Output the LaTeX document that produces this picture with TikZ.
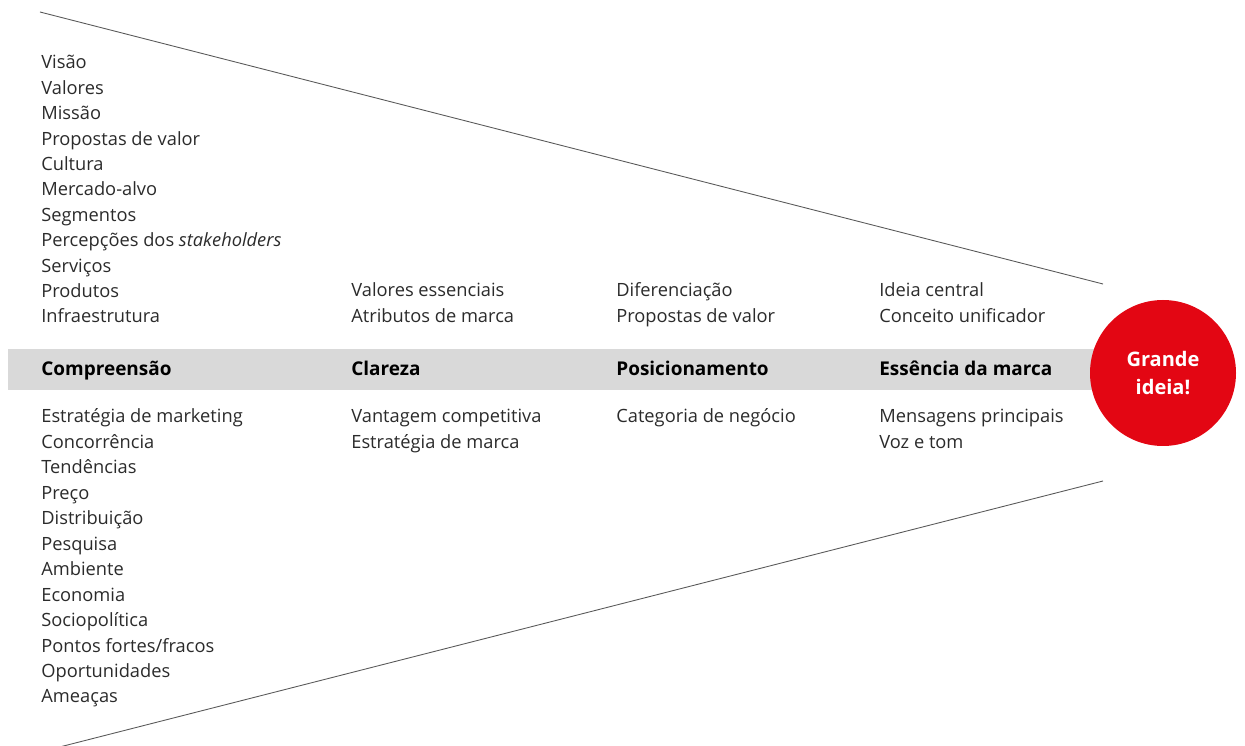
\documentclass[tikz,border=0pt]{standalone}
\usepackage{fontspec}
\setmainfont{Open Sans}
\definecolor{bandgray}{HTML}{D9D9D9}
\definecolor{ideared}{HTML}{E30613}
\definecolor{txtgray}{HTML}{2B2B2B}
\tikzset{
  item/.style={anchor=base west,inner sep=0pt,text=txtgray,font=\fontsize{10.4}{14}\selectfont},
  stage/.style={anchor=base west,inner sep=0pt,text=black,font=\fontsize{10.8}{14}\selectfont\bfseries},
  funnel/.style={draw=black!65,line width=0.5pt}
}
\begin{document}
\begin{tikzpicture}[x=0.02cm,y=-0.02cm]
    \useasboundingbox (0,0) rectangle (1245,746);

    % faixa cinzenta
    \fill[bandgray] (8,349) rectangle (1100,390);

    % funil
    \coordinate (tl) at (40,12);
    \coordinate (tr) at (1103,284);
    \coordinate (bl) at (40,752);
    \coordinate (br) at (1103,481);
    \draw[funnel] (tl) -- (tr);
    \draw[funnel] (bl) -- (br);

    \node[shape=circle,fill=ideared,minimum size=146*0.02cm,inner sep=0pt,
          text=white,font=\fontsize{11.4}{16}\selectfont\bfseries,align=center]
          (idea) at (1163,373) {Grande\\ideia!};

    % etapas
    \node[stage] (comp) at (41,376) {Compreensão};
    \node[stage] (clar) at (351,376) {Clareza};
    \node[stage] (posi) at (616,376) {Posicionamento};
    \node[stage] (esse) at (879,376) {Essência da marca};

    % compreensao
    \foreach \t [count=\i] in {Visão,Valores,Missão,Propostas de valor,Cultura,Mercado-alvo,
        Segmentos,Percepções dos \textit{stakeholders},Serviços,Produtos,Infraestrutura}
      \node[item] (compup\i) at (41,{69+25.4*(\i-1)}) {\t};
    \foreach \t [count=\i] in {Estratégia de marketing,Concorrência,Tendências,Preço,Distribuição,
        Pesquisa,Ambiente,Economia,Sociopolítica,Pontos fortes/fracos,Oportunidades,Ameaças}
      \node[item] (complo\i) at (41,{423+25.45*(\i-1)}) {\t};

    % clareza
    \node[item] (clarup1) at (351,297) {Valores essenciais};
    \node[item] (clarup2) at (351,323) {Atributos de marca};
    \node[item] (clarlo1) at (351,423) {Vantagem competitiva};
    \node[item] (clarlo2) at (351,449) {Estratégia de marca};

    % posicionamento
    \node[item] (posiup1) at (616,297) {Diferenciação};
    \node[item] (posiup2) at (616,323) {Propostas de valor};
    \node[item] (posilo1) at (616,423) {Categoria de negócio};

    % essencia
    \node[item] (esseup1) at (879,297) {Ideia central};
    \node[item] (esseup2) at (879,323) {Conceito unificador};
    \node[item] (esselo1) at (879,423) {Mensagens principais};
    \node[item] (esselo2) at (879,449) {Voz e tom};

\end{tikzpicture}
\end{document}
